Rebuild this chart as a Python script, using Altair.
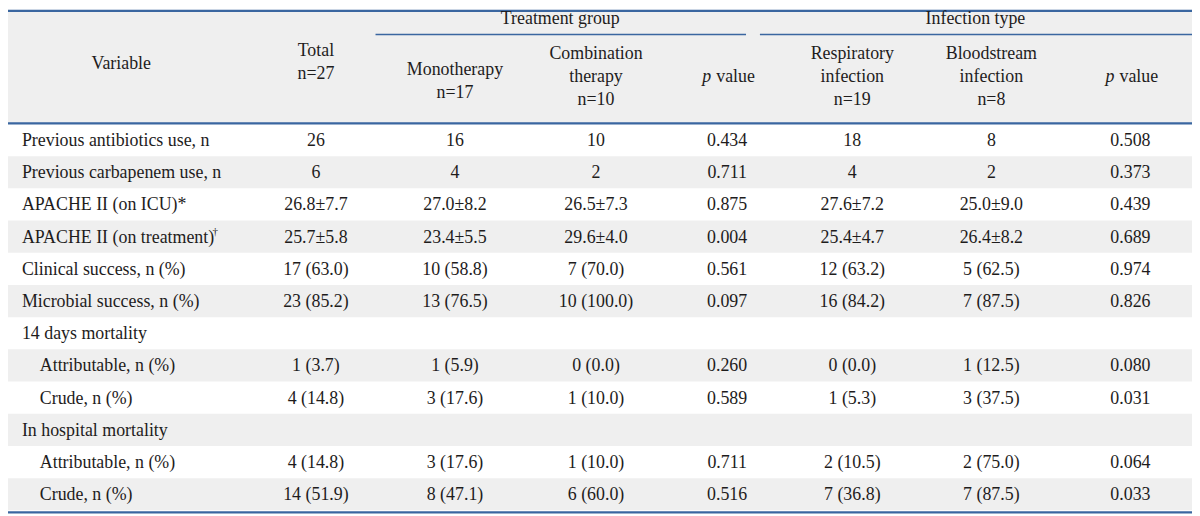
import altair as alt
import pandas as pd

# ---------------- data ----------------
variables = [
    "Previous antibiotics use, n", "Previous carbapenem use, n",
    "APACHE II (on ICU)*", "APACHE II (on treatment)",
    "Clinical success, n (%)", "Microbial success, n (%)",
    "14 days mortality", "Attributable, n (%)", "Crude, n (%)",
    "In hospital mortality", "Attributable, n (%)", "Crude, n (%)",
]
total = ["26", "6", "26.8±7.7", "25.7±5.8", "17 (63.0)", "23 (85.2)", "",
         "1 (3.7)", "4 (14.8)", "", "4 (14.8)", "14 (51.9)"]
mono = ["16", "4", "27.0±8.2", "23.4±5.5", "10 (58.8)", "13 (76.5)", "",
        "1 (5.9)", "3 (17.6)", "", "3 (17.6)", "8 (47.1)"]
combo = ["10", "2", "26.5±7.3", "29.6±4.0", "7 (70.0)", "10 (100.0)", "",
         "0 (0.0)", "1 (10.0)", "", "1 (10.0)", "6 (60.0)"]
p_treat = ["0.434", "0.711", "0.875", "0.004", "0.561", "0.097", "",
           "0.260", "0.589", "", "0.711", "0.516"]
resp = ["18", "4", "27.6±7.2", "25.4±4.7", "12 (63.2)", "16 (84.2)", "",
        "0 (0.0)", "1 (5.3)", "", "2 (10.5)", "7 (36.8)"]
blood = ["8", "2", "25.0±9.0", "26.4±8.2", "5 (62.5)", "7 (87.5)", "",
         "1 (12.5)", "3 (37.5)", "", "2 (75.0)", "7 (87.5)"]
p_inf = ["0.508", "0.373", "0.439", "0.689", "0.974", "0.826", "",
         "0.080", "0.031", "", "0.064", "0.033"]
footnote_marks = ["", "", "", "†", "", "", "", "", "", "", "", ""]

group_headers = ["Treatment group", "Infection type"]
col_headers = {
    "var": ["Variable"],
    "total": ["Total", "n=27"],
    "mono": ["Monotherapy", "n=17"],
    "combo": ["Combination", "therapy", "n=10"],
    "resp": ["Respiratory", "infection", "n=19"],
    "blood": ["Bloodstream", "infection", "n=8"],
}
pval_label = ("p", "value")

# ---------------- layout ----------------
FONT = "Liberation Serif"
FS = 18
INK = "#1e1c1c"
GRAY = "#efefef"
BLUE = "#3a66a0"
X0, X1, Y0, Y1 = 8, 1200, 8, 516
indent = [0, 0, 0, 0, 0, 0, 0, 1, 1, 0, 1, 1]
var_x = [22, 40]
col_x = {"var": 122, "total": 318, "mono": 458, "combo": 600, "p1": 732,
         "resp": 858, "blood": 998, "p2": 1138}
body_top, row_h = 123.0, 32.42
header_line_h = 23
header_mid = 75
group_x = [564, 982]
group_line = [(378, 751), (765, 1200)]
group_y, group_line_y = 17, 33
sup_x = 214

xs = alt.Scale(domain=[X0, X1])
ys = alt.Scale(domain=[Y0, Y1], reverse=True)


def X(f):
    return alt.X(f, type="quantitative", scale=xs, axis=None)


def Y(f):
    return alt.Y(f, type="quantitative", scale=ys, axis=None)


# backgrounds
bg_rows = [{"x": X0, "x2": X1, "y": Y0, "y2": 122}]
for i in range(len(variables)):
    if i % 2 == 1:
        bg_rows.append({"x": X0, "x2": X1,
                        "y": body_top + row_h * i, "y2": body_top + row_h * (i + 1)})
bg = alt.Chart(pd.DataFrame(bg_rows)).mark_rect(color=GRAY).encode(
    x=X("x"), x2="x2", y=Y("y"), y2="y2")

# rules
rule_rows = [
    {"x": X0, "x2": X1, "y": Y0 + 1.1, "w": 2.2},
    {"x": X0, "x2": X1, "y": 122.5, "w": 2.2},
    {"x": X0, "x2": X1, "y": 514, "w": 2.2},
]
for a, b in group_line:
    rule_rows.append({"x": a, "x2": b, "y": group_line_y, "w": 1.6})
rules = alt.Chart(pd.DataFrame(rule_rows)).mark_rule(color=BLUE).encode(
    x=X("x"), x2="x2", y=Y("y"), strokeWidth=alt.StrokeWidth("w:Q", scale=None))

# body text
cols = [("total", total), ("mono", mono), ("combo", combo), ("p1", p_treat),
        ("resp", resp), ("blood", blood), ("p2", p_inf)]
body_left, body_center = [], []
for i, v in enumerate(variables):
    yc = body_top + row_h * (i + 0.5) + 1
    body_left.append({"x": var_x[indent[i]], "y": yc, "t": v})
    for key, arr in cols:
        if arr[i]:
            body_center.append({"x": col_x[key], "y": yc, "t": arr[i]})

left_text = alt.Chart(pd.DataFrame(body_left)).mark_text(
    align="left", baseline="middle", font=FONT, fontSize=FS, color=INK).encode(
    x=X("x"), y=Y("y"), text="t:N")
center_text = alt.Chart(pd.DataFrame(body_center)).mark_text(
    align="center", baseline="middle", font=FONT, fontSize=FS, color=INK).encode(
    x=X("x"), y=Y("y"), text="t:N")

# footnote superscripts
sup_rows = []
for i, m in enumerate(footnote_marks):
    if m:
        sup_rows.append({"x": sup_x, "y": body_top + row_h * (i + 0.5) - 5, "t": m})
sup_text = alt.Chart(pd.DataFrame(sup_rows)).mark_text(
    align="left", baseline="middle", font=FONT, fontSize=11, color=INK).encode(
    x=X("x"), y=Y("y"), text="t:N")

# header text
hdr = []
for gx, g in zip(group_x, group_headers):
    hdr.append({"x": gx, "y": group_y, "t": g})
for key, lines in col_headers.items():
    n = len(lines)
    if key == "var":
        y_start = 62
    elif key == "total":
        y_start = 49
    elif key == "mono":
        y_start = 68
    else:
        y_start = header_mid - header_line_h * (n - 1) / 2
    for j, ln in enumerate(lines):
        hdr.append({"x": col_x[key], "y": y_start + header_line_h * j + 1, "t": ln})
hdr_text = alt.Chart(pd.DataFrame(hdr)).mark_text(
    align="center", baseline="middle", font=FONT, fontSize=FS, color=INK).encode(
    x=X("x"), y=Y("y"), text="t:N")

p_rows, v_rows = [], []
for key in ("p1", "p2"):
    p_rows.append({"x": col_x[key] - 16, "y": header_mid + 1, "t": pval_label[0]})
    v_rows.append({"x": col_x[key] - 11, "y": header_mid + 1, "t": pval_label[1]})
p_text = alt.Chart(pd.DataFrame(p_rows)).mark_text(
    align="right", baseline="middle", font=FONT, fontSize=FS, fontStyle="italic",
    color=INK).encode(x=X("x"), y=Y("y"), text="t:N")
v_text = alt.Chart(pd.DataFrame(v_rows)).mark_text(
    align="left", baseline="middle", font=FONT, fontSize=FS, color=INK).encode(
    x=X("x"), y=Y("y"), text="t:N")

chart = alt.layer(bg, rules, left_text, center_text, sup_text, hdr_text,
                  p_text, v_text).properties(
    width=X1 - X0, height=Y1 - Y0,
    autosize=alt.AutoSizeParams(type="none"), padding=0,
).configure_view(stroke=None)

chart.save("out.html", embed_options={"renderer": "svg", "actions": False})
